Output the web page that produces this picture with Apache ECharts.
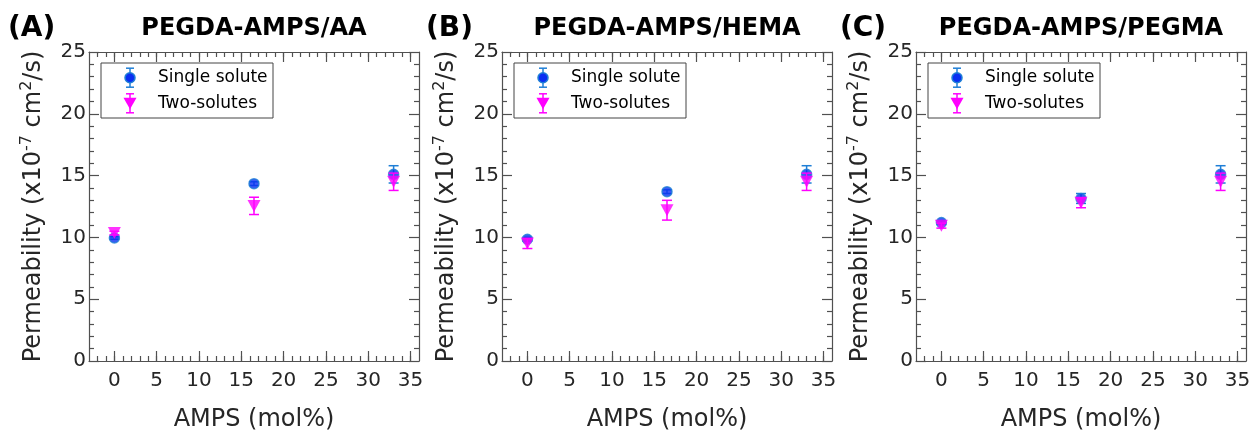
<!DOCTYPE html>
<html>
<head>
<meta charset="utf-8">
<script src="https://cdn.jsdelivr.net/npm/echarts@6/dist/echarts.min.js"></script>
<style>
  html, body { margin: 0; padding: 0; background: #fff; }
  #chart { width: 1251px; height: 434px; }
</style>
</head>
<body>
<div id="chart"></div>
<script>
// AMPS content (mol%) of each hydrogel formulation
const amps = [0, 16.5, 33];

const seriesNames = ['Single solute', 'Two-solutes'];
const panelTitles = ['PEGDA-AMPS/AA', 'PEGDA-AMPS/HEMA', 'PEGDA-AMPS/PEGMA'];
const panelLetters = ['(A)', '(B)', '(C)'];

// Permeability (x10^-7 cm^2/s), mean and error
const singleAA = [9.95, 14.35, 15.1];
const singleAAErr = [0.1, 0.15, 0.7];
const twoAA = [10.35, 12.55, 14.5];
const twoAAErr = [0.15, 0.7, 0.7];

const singleHEMA = [9.85, 13.7, 15.1];
const singleHEMAErr = [0.15, 0.15, 0.7];
const twoHEMA = [9.5, 12.2, 14.5];
const twoHEMAErr = [0.4, 0.8, 0.7];

const singlePEGMA = [11.2, 13.15, 15.1];
const singlePEGMAErr = [0.15, 0.4, 0.7];
const twoPEGMA = [10.95, 12.8, 14.5];
const twoPEGMAErr = [0.2, 0.4, 0.7];

const xTickLabels = [0, 5, 10, 15, 20, 25, 30, 35];
const xMinorTicks = [-2, -1, 0, 1, 2, 3, 4, 5, 6, 7, 8, 9, 10, 11, 12, 13, 14, 15, 16, 17,
  18, 19, 20, 21, 22, 23, 24, 25, 26, 27, 28, 29, 30, 31, 32, 33, 34, 35];
const yTickLabels = [0, 5, 10, 15, 20, 25];

const panels = [
  { single: singleAA, singleErr: singleAAErr, two: twoAA, twoErr: twoAAErr },
  { single: singleHEMA, singleErr: singleHEMAErr, two: twoHEMA, twoErr: twoHEMAErr },
  { single: singlePEGMA, singleErr: singlePEGMAErr, two: twoPEGMA, twoErr: twoPEGMAErr }
];

// layout
const FONT = 'DejaVu Sans';
const gridLefts = [89, 502, 916];
const gridTop = 52, gridW = 330, gridH = 309;
const AXIS_COLOR = '#505050';
const TEXT_COLOR = '#262626';
const BLUE_BAR = '#1f7fd6';
const BLUE_FILL = '#0a2ff2';
const MAGENTA = '#ff00ff';

function errorBarItem(color) {
  return function (params, api) {
    const x = api.value(0), lo = api.value(1), hi = api.value(2);
    const top = api.coord([x, hi]);
    const bot = api.coord([x, lo]);
    const hw = 5;
    const style = { stroke: color, lineWidth: 1.5, fill: null };
    return {
      type: 'group',
      children: [
        { type: 'line', shape: { x1: top[0], y1: top[1], x2: bot[0], y2: bot[1] }, style },
        { type: 'line', shape: { x1: top[0] - hw, y1: top[1], x2: top[0] + hw, y2: top[1] }, style },
        { type: 'line', shape: { x1: bot[0] - hw, y1: bot[1], x2: bot[0] + hw, y2: bot[1] }, style }
      ]
    };
  };
}

const grids = [], xAxes = [], yAxes = [], series = [], graphics = [];

panels.forEach((p, i) => {
  const left = gridLefts[i];
  grids.push({ left: left, top: gridTop, width: gridW, height: gridH,
    containLabel: false, outerBoundsMode: 'none' });

  const xBase = {
    gridIndex: i, type: 'value', min: -3, max: 36,
    splitLine: { show: false }
  };
  // bottom: labelled major ticks
  xAxes.push(Object.assign({}, xBase, {
    position: 'bottom',
    name: 'AMPS (mol%)', nameLocation: 'middle', nameGap: 47,
    nameTextStyle: { fontFamily: FONT, fontSize: 24, color: TEXT_COLOR },
    axisLine: { show: true, onZero: false, lineStyle: { color: AXIS_COLOR, width: 1.2 } },
    axisTick: { show: true, inside: true, length: 10, customValues: xTickLabels,
      lineStyle: { color: AXIS_COLOR, width: 1.2 } },
    axisLabel: { show: true, customValues: xTickLabels, margin: 10,
      fontFamily: FONT, fontSize: 20, color: TEXT_COLOR }
  }));
  // bottom: minor ticks
  xAxes.push(Object.assign({}, xBase, {
    position: 'bottom',
    axisLine: { show: false, onZero: false },
    axisTick: { show: true, inside: true, length: 5, customValues: xMinorTicks,
      lineStyle: { color: AXIS_COLOR, width: 1.2 } },
    axisLabel: { show: false }
  }));
  // top mirror: major ticks
  xAxes.push(Object.assign({}, xBase, {
    position: 'top',
    axisLine: { show: true, onZero: false, lineStyle: { color: AXIS_COLOR, width: 1.2 } },
    axisTick: { show: true, inside: true, length: 10, customValues: xTickLabels,
      lineStyle: { color: AXIS_COLOR, width: 1.2 } },
    axisLabel: { show: false }
  }));
  // top mirror: minor ticks
  xAxes.push(Object.assign({}, xBase, {
    position: 'top',
    axisLine: { show: false, onZero: false },
    axisTick: { show: true, inside: true, length: 5, customValues: xMinorTicks,
      lineStyle: { color: AXIS_COLOR, width: 1.2 } },
    axisLabel: { show: false }
  }));

  const yBase = {
    gridIndex: i, type: 'value', min: yTickLabels[0], max: yTickLabels[yTickLabels.length - 1],
    interval: 5,
    splitLine: { show: false },
    minorSplitLine: { show: false },
    axisLine: { show: true, onZero: false, lineStyle: { color: AXIS_COLOR, width: 1.2 } },
    axisTick: { show: true, inside: true, length: 10, lineStyle: { color: AXIS_COLOR, width: 1.2 } },
    minorTick: { show: true, splitNumber: 5, length: 5, lineStyle: { color: AXIS_COLOR, width: 1.2 } }
  };
  yAxes.push(Object.assign({}, yBase, {
    position: 'left',
    name: 'Permeability (x10{sup|-7} cm{sup|2}/s)',
    nameLocation: 'middle', nameGap: 40, nameRotate: 90,
    nameTextStyle: {
      fontFamily: FONT, fontSize: 24, color: TEXT_COLOR, lineHeight: 30,
      rich: {
        sup: { fontFamily: FONT, fontSize: 16, color: TEXT_COLOR, verticalAlign: 'top', lineHeight: 30, padding: [0, 0, 8, 0] }
      }
    },
    axisLabel: { show: true, margin: 3, fontFamily: FONT, fontSize: 20, color: TEXT_COLOR }
  }));
  yAxes.push(Object.assign({}, yBase, {
    position: 'right',
    axisLabel: { show: false }
  }));

  const xi = i * 4, yi = i * 2;
  const singleBars = amps.map((x, k) => [x, p.single[k] - p.singleErr[k], p.single[k] + p.singleErr[k]]);
  const twoBars = amps.map((x, k) => [x, p.two[k] - p.twoErr[k], p.two[k] + p.twoErr[k]]);

  series.push({
    type: 'custom', name: seriesNames[0] + ' error', xAxisIndex: xi, yAxisIndex: yi, z: 2,
    renderItem: errorBarItem(BLUE_BAR), encode: { x: 0, y: [1, 2] }, data: singleBars, silent: true
  });
  series.push({
    type: 'scatter', name: seriesNames[0], xAxisIndex: xi, yAxisIndex: yi, z: 3,
    symbol: 'circle', symbolSize: 10,
    itemStyle: { color: BLUE_FILL, borderColor: BLUE_BAR, borderWidth: 1.5 },
    data: amps.map((x, k) => [x, p.single[k]])
  });
  series.push({
    type: 'custom', name: seriesNames[1] + ' error', xAxisIndex: xi, yAxisIndex: yi, z: 4,
    renderItem: errorBarItem(MAGENTA), encode: { x: 0, y: [1, 2] }, data: twoBars, silent: true
  });
  series.push({
    type: 'scatter', name: seriesNames[1], xAxisIndex: xi, yAxisIndex: yi, z: 5,
    symbol: 'triangle', symbolRotate: 180, symbolSize: [13, 12],
    itemStyle: { color: MAGENTA },
    data: amps.map((x, k) => [x, p.two[k]])
  });

  // panel title and letter
  graphics.push({
    type: 'text', x: left + gridW / 2, y: 29, z: 10,
    style: { text: panelTitles[i], fontFamily: FONT, fontWeight: 'bold', fontSize: 24,
      fill: '#000', align: 'center', verticalAlign: 'middle' }
  });
  const letterX = [8, 426, 840][i];
  graphics.push({
    type: 'text', x: letterX, y: 29, z: 10,
    style: { text: panelLetters[i], fontFamily: FONT, fontWeight: 'bold', fontSize: 28,
      fill: '#000', align: 'left', verticalAlign: 'middle' }
  });

  // legend box with error-bar glyphs
  const lx = left + 12, ly = 63, lw = 172, lh = 55;
  const mx = lx + 29, r1 = 77.7, r2 = 103.3;
  const kids = [
    { type: 'rect', shape: { x: lx, y: ly, width: lw, height: lh },
      style: { fill: '#fff', stroke: '#444', lineWidth: 1 } },
    // single solute glyph
    { type: 'line', shape: { x1: mx, y1: r1 - 9.5, x2: mx, y2: r1 + 9.5 }, style: { stroke: BLUE_BAR, lineWidth: 1.5 } },
    { type: 'line', shape: { x1: mx - 4, y1: r1 - 9.5, x2: mx + 4, y2: r1 - 9.5 }, style: { stroke: BLUE_BAR, lineWidth: 1.5 } },
    { type: 'line', shape: { x1: mx - 4, y1: r1 + 9.5, x2: mx + 4, y2: r1 + 9.5 }, style: { stroke: BLUE_BAR, lineWidth: 1.5 } },
    { type: 'circle', shape: { cx: mx, cy: r1, r: 5 }, style: { fill: BLUE_FILL, stroke: BLUE_BAR, lineWidth: 1.5 } },
    { type: 'text', x: lx + 57, y: r1, style: { text: seriesNames[0], fontFamily: FONT, fontSize: 17,
      fill: '#000', align: 'left', verticalAlign: 'middle' } },
    // two-solutes glyph
    { type: 'line', shape: { x1: mx, y1: r2 - 9.5, x2: mx, y2: r2 + 9.5 }, style: { stroke: MAGENTA, lineWidth: 1.5 } },
    { type: 'line', shape: { x1: mx - 4, y1: r2 - 9.5, x2: mx + 4, y2: r2 - 9.5 }, style: { stroke: MAGENTA, lineWidth: 1.5 } },
    { type: 'line', shape: { x1: mx - 4, y1: r2 + 9.5, x2: mx + 4, y2: r2 + 9.5 }, style: { stroke: MAGENTA, lineWidth: 1.5 } },
    { type: 'polygon', shape: { points: [[mx - 6.5, r2 - 5.5], [mx + 6.5, r2 - 5.5], [mx, r2 + 6]] }, style: { fill: MAGENTA } },
    { type: 'text', x: lx + 57, y: r2, style: { text: seriesNames[1], fontFamily: FONT, fontSize: 17,
      fill: '#000', align: 'left', verticalAlign: 'middle' } }
  ];
  graphics.push({ type: 'group', z: 20, children: kids });
});

const chart = echarts.init(document.getElementById('chart'), null, { renderer: 'canvas' });
chart.setOption({
  animation: false,
  backgroundColor: '#fff',
  grid: grids,
  xAxis: xAxes,
  yAxis: yAxes,
  series: series,
  graphic: graphics
});
</script>
</body>
</html>
